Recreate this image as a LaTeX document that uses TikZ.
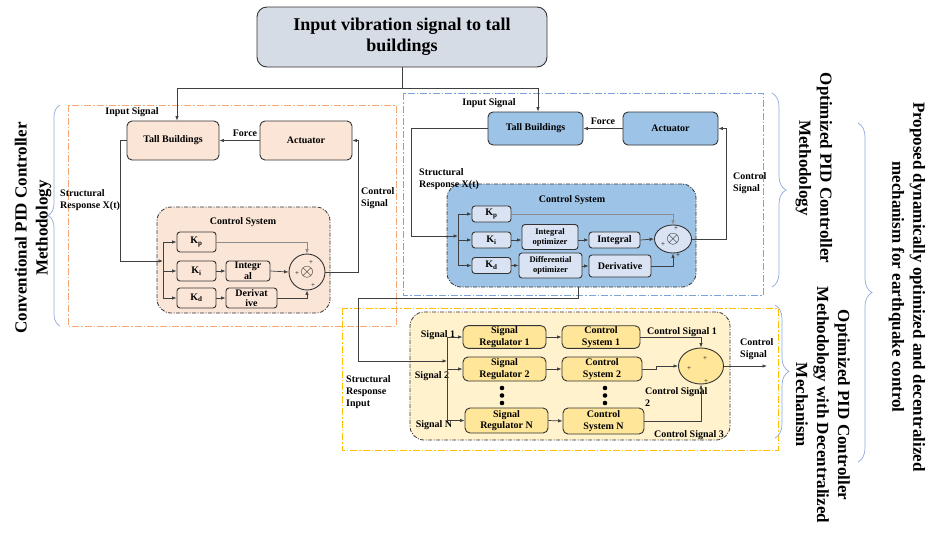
\documentclass[tikz,border=0pt]{standalone}
\usepackage{fontspec}
\setmainfont{Liberation Serif}
\usetikzlibrary{arrows.meta,shapes.geometric,decorations.pathreplacing}
\definecolor{peach}{HTML}{FBE5D6}
\definecolor{bluemid}{HTML}{9DC3E6}
\definecolor{bluelight}{HTML}{DAE3F3}
\definecolor{yellowfill}{HTML}{FFE699}
\definecolor{yellowarea}{HTML}{FFF2CC}
\definecolor{topgray}{HTML}{D6DCE5}
\definecolor{orangeline}{HTML}{F4A878}
\definecolor{blueline}{HTML}{7FA2DC}
\definecolor{yellowline}{HTML}{FFC000}
\definecolor{braceblue}{HTML}{8FAADC}
\tikzset{
	blk/.style={draw=black!80, line width=0.9pt, rounded corners=5pt, align=center, inner sep=1pt,
		font=\bfseries\fontsize{10}{11.5}\selectfont},
	peachbox/.style={blk, fill=peach},
	bluebox/.style={blk, fill=bluemid},
	gainbox/.style={blk, fill=bluelight, rounded corners=3pt},
	yellowbox/.style={blk, fill=yellowfill},
	csframe/.style={draw=black!80, line width=0.8pt, rounded corners=14pt,
		dash pattern=on 4pt off 1.5pt on 1pt off 1.5pt},
	groupbox/.style={line width=0.9pt, dash pattern=on 7pt off 2pt on 1.5pt off 2pt},
	lbl/.style={font=\bfseries\fontsize{10}{12}\selectfont, align=left, inner sep=0pt},
	plus/.style={font=\fontsize{7}{7}\selectfont, inner sep=0pt},
	conn/.style={draw=black!75, line width=0.7pt},
	arr/.style={conn, -{Latex[length=4.5pt,width=3.5pt]}},
	grpbrace/.style={decorate, decoration={brace, amplitude=#1}, draw=braceblue, line width=0.7pt},
	side/.style={font=\bfseries\fontsize{17}{21}\selectfont, align=center, inner sep=0pt}
}
\begin{document}
\begin{tikzpicture}[x=1pt,y=-1pt]
	\fill[white] (0,0) rectangle (929,536);
	\useasboundingbox (0,0) rectangle (929,536);

	\node[blk, fill=topgray, rounded corners=10pt, minimum width=290, minimum height=60,
		font=\bfseries\fontsize{18}{21}\selectfont] (vib) at (402,37) {Input vibration signal to tall\\buildings};
	\coordinate (split) at (402,88);

	\draw[groupbox, draw=orangeline] (68,105) rectangle (396,326);
	\draw[groupbox, draw=blueline] (403,93) rectangle (763,295);
	\draw[groupbox, draw=yellowline] (342,308) rectangle (778,450);

	\node[peachbox, minimum width=92, minimum height=39] (tallL) at (173,140.5) {Tall Buildings};
	\node[peachbox, minimum width=92, minimum height=39] (actL) at (306,140.5) {Actuator};
	\node[csframe, fill=peach, minimum width=173, minimum height=106] (csL) at (243.5,260) {};
	\node[lbl] (csLt) at (243,222) {Control System};
	\node[peachbox, rounded corners=3pt, minimum width=39, minimum height=20] (kpL) at (196.5,242) {K\textsubscript{p}};
	\node[peachbox, rounded corners=3pt, minimum width=39, minimum height=20] (kiL) at (196.5,271) {K\textsubscript{i}};
	\node[peachbox, rounded corners=3pt, minimum width=39, minimum height=20] (kdL) at (196.5,298) {K\textsubscript{d}};
	\node[peachbox, rounded corners=3pt, minimum width=44, minimum height=20, inner sep=0pt,
		font=\bfseries\fontsize{10}{10.5}\selectfont] (intL) at (248,271) {Integr\\al};
	\node[peachbox, rounded corners=3pt, minimum width=51, minimum height=20, inner sep=0pt,
		font=\bfseries\fontsize{10}{10.5}\selectfont] (derL) at (251.5,298) {Derivat\\ive};
	\node[circle, draw=black!80, line width=0.9pt, fill=peach, minimum size=36] (sumL) at (307,272) {};
	\node[font=\fontsize{17}{17}\selectfont, inner sep=0pt] (otL) at (sumL) {$\otimes$};
	\node[plus] (pL1) at (311,263) {+};
	\node[plus] (pL2) at (297,274) {+};
	\node[plus] (pL3) at (313,286) {+};

	\node[lbl] (inL) at (132,112) {Input Signal};
	\node[lbl] (forceL) at (245,133) {Force};
	\node[lbl, anchor=west] (ctlL) at (361,198.5) {Control\\Signal};
	\node[lbl, anchor=west] (srL) at (60,200.5) {Structural\\Response X(t)};

	\node[bluebox, minimum width=95, minimum height=33] (tallR) at (535.5,128.5) {Tall Buildings};
	\node[bluebox, minimum width=95, minimum height=33] (actR) at (670.5,128.5) {Actuator};
	\node[csframe, fill=bluemid, minimum width=249, minimum height=103] (csR) at (571.5,235.5) {};
	\node[lbl] (csRt) at (572,200) {Control System};
	\node[gainbox, minimum width=39, minimum height=16] (kpR) at (491.5,214) {K\textsubscript{p}};
	\node[gainbox, minimum width=39, minimum height=16] (kiR) at (491.5,240) {K\textsubscript{i}};
	\node[gainbox, minimum width=39, minimum height=16] (kdR) at (491.5,265.5) {K\textsubscript{d}};
	\node[gainbox, minimum width=56, minimum height=25, font=\bfseries\fontsize{8.5}{10}\selectfont] (ioR) at (550,237) {Integral\\optimizer};
	\node[gainbox, minimum width=63, minimum height=25, font=\bfseries\fontsize{8.5}{10}\selectfont] (doR) at (550.5,265.5) {Differential\\optimizer};
	\node[gainbox, minimum width=51, minimum height=16] (intR) at (614.5,240) {Integral};
	\node[gainbox, minimum width=62, minimum height=22] (derR) at (620,266) {Derivative};
	\node[ellipse, draw=black!80, line width=0.9pt, fill=bluelight, minimum width=37, minimum height=28] (sumR) at (673,239) {};
	\node[font=\fontsize{17}{17}\selectfont, inner sep=0pt] (otR) at (sumR) {$\otimes$};
	\node[plus] (pR1) at (676,229) {+};
	\node[plus] (pR2) at (663,245) {+};
	\node[plus] (pR3) at (678,256) {+};

	\node[lbl] (inR) at (489,103) {Input Signal};
	\node[lbl] (forceR) at (603,121) {Force};
	\node[lbl, anchor=west] (ctlR) at (733,183) {Control\\Signal};
	\node[lbl, anchor=west] (srR) at (419,179) {Structural\\Response X(t)};

	\node[csframe, fill=yellowarea, minimum width=320, minimum height=128] (csY) at (570,376) {};
	\node[yellowbox, minimum width=83, minimum height=22] (srY1) at (504.5,337) {Signal\\Regulator 1};
	\node[yellowbox, minimum width=83, minimum height=24] (srY2) at (504.5,369) {Signal\\Regulator 2};
	\node[yellowbox, minimum width=83, minimum height=25] (srYN) at (506.5,420.5) {Signal\\Regulator N};
	\node[yellowbox, minimum width=78, minimum height=22] (csY1) at (601,337) {Control\\System 1};
	\node[yellowbox, minimum width=80, minimum height=24] (csY2) at (602,369) {Control\\System 2};
	\node[yellowbox, minimum width=81, minimum height=26] (csYN) at (603.5,421) {Control\\System N};
	\node[ellipse, draw=black!80, line width=0.9pt, fill=yellowfill, minimum width=45, minimum height=36] (sumY) at (701,366) {};
	\node[plus] (pY1) at (705,359) {+};
	\node[plus] (pY2) at (689,369) {+};
	\node[plus] (pY3) at (706,382) {+};
	\foreach \y in {388,395.5,403} {
		\fill (502,\y) circle[radius=2.3pt];
		\fill (605,\y) circle[radius=2.3pt];
	}

	\node[lbl] (sg1) at (438,335) {Signal 1};
	\node[lbl] (sg2) at (432,376) {Signal 2};
	\node[lbl] (sgN) at (434,425) {Signal N};
	\node[lbl] (cs1) at (682,332) {Control Signal 1};
	\node[lbl, anchor=north west] (cs2) at (645,387) {Control Signal\\2};
	\node[lbl] (cs3) at (689,435) {Control Signal 3};
	\node[lbl, anchor=west] (ctlY) at (740,349) {Control\\Signal};
	\node[lbl, anchor=west] (srY) at (346,392) {Structural\\Response\\Input};

	\draw[conn] (vib.south) -- (split);
	\draw[arr] (split) -| ([xshift=4pt]tallL.north);
	\draw[arr] (split) -| ([xshift=2.5pt]tallR.north);

	\coordinate (brL) at (163,261);
	\draw[arr] (actL.west) -- (tallL.east);
	\draw[arr] (sumL.east) -- ++(33,0) |- (actL.east);
	\draw[arr] (tallL.west) -- ++(-6,0) |- (brL);
	\draw[conn] (brL |- kpL.west) -- (brL |- kdL.west);
	\foreach \n in {kpL,kiL,kdL} \draw[arr] (brL |- \n.west) -- (\n.west);
	\draw[arr, draw=black!45, line width=0.5pt] (kpL.east) -| (sumL.north);
	\draw[arr] (kiL.east) -- (intL.west);
	\draw[arr] (intL.east) -- (sumL.west);
	\draw[arr] (kdL.east) -- (derL.west);
	\draw[arr] (derL.east) -| (sumL.south);

	\coordinate (brR) at (458,236);
	\draw[arr] (actR.west) -- (tallR.east);
	\draw[arr] (sumR.east) -- ++(34,0) |- (actR.east);
	\draw[arr] (tallR.west) -- ++(-76,0) |- (brR);
	\draw[conn] (brR |- kpR.west) -- (brR |- kdR.west);
	\foreach \n in {kpR,kiR,kdR} \draw[arr] (brR |- \n.west) -- (\n.west);
	\draw[arr, draw=black!45, line width=0.5pt] (kpR.east) -| (sumR.north);
	\draw[arr] (kiR.east) -- (kiR.east -| ioR.west);
	\draw[arr] (ioR.east |- intR.west) -- (intR.west);
	\draw[arr] (intR.east) -- (sumR.west);
	\draw[arr] (kdR.east) -- (kdR.east -| doR.west);
	\draw[arr] (doR.east |- derR.west) -- (derR.west);
	\draw[arr] (derR.east) -| (sumR.south);

	\coordinate (bendY) at (358,298);
	\coordinate (brY) at (447,361);
	\coordinate (outY) at (767,366);
	\draw[arr] ([xshift=6.5pt]csR.south) |- (bendY) |- (brY);
	\draw[conn] (brY |- srY1.west) -- (brY |- srYN.west);
	\foreach \n in {srY1,srY2,srYN} \draw[arr] (brY |- \n.west) -- (\n.west);
	\draw[arr] (srY1.east) -- (csY1.west);
	\draw[arr] (srY2.east) -- (csY2.west);
	\draw[arr] (srYN.east) -- (csYN.west);
	\draw[arr] (csY1.east) -| (sumY.north);
	\draw[arr] (csY2.east) -- ++(14,0) |- (sumY.west);
	\draw[arr] (csYN.east) -| (sumY.south);
	\draw[arr] (sumY.east) -- (outY);

	\draw[grpbrace=12] (60,326) -- (60,105);
	\draw[grpbrace=14] (772,93) -- (772,287);
	\draw[grpbrace=14] (775,305) -- (775,438);
	\draw[grpbrace=14] (858,123) -- (858,462);

	\node[side, rotate=90] (convT) at (33,228) {Conventional PID Controller\\Methodology};
	\node[side, rotate=-90] (optT) at (814,168) {Optimized PID Controller\\Methodology};
	\node[side, rotate=-90] (decT) at (823,405) {Optimized PID Controller\\Methodology with Decentralized\\Mechanism};
	\node[side, rotate=-90] (propT) at (907,287) {Proposed dynamically optimized and decentralized\\mechanism for earthquake control};
\end{tikzpicture}
\end{document}
